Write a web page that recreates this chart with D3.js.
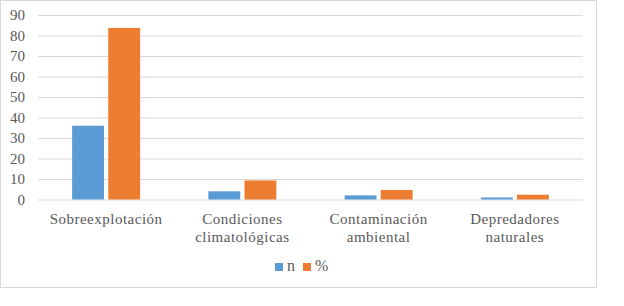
<!DOCTYPE html>
<html>
<head>
<meta charset="utf-8">
<script src="https://cdn.jsdelivr.net/npm/d3@7"></script>
</head>
<body style="margin:0">
<script>
/* bar chart: causes, n and % */

const categories = [["Sobreexplotación"], ["Condiciones", "climatológicas"], ["Contaminación", "ambiental"], ["Depredadores", "naturales"]];
const nValues = [36, 4, 2, 1];
const pctValues = [83.7, 9.3, 4.65, 2.33];
const yTicks = [0, 10, 20, 30, 40, 50, 60, 70, 80, 90];
const seriesNames = ["n", "%"];
const colors = ["#5B9BD5", "#ED7D31"];

const serif = "'Times New Roman', 'Liberation Serif', monospace";

const width = 624,
      height = 306,
      margin = ({ top: 15, right: 41, bottom: 106, left: 38 });

let svg = d3.select("body")
    .append("svg")
    .attr("width", width)
    .attr("height", height);

// outer frame
svg.append("rect")
    .attr("x", 0.5).attr("y", 0.5)
    .attr("width", 596).attr("height", 287)
    .attr("fill", "none")
    .attr("stroke", "#D9D9D9");

let x = d3.scaleBand()
    .domain(categories.map((d, i) => i))
    .range([margin.left, width - margin.right]);

let x1 = d3.scaleBand()
    .domain(seriesNames)
    .range([x.bandwidth() / 2 - 34, x.bandwidth() / 2 + 34])
    .paddingInner(0.118);

let y = d3.scaleLinear()
    .domain([0, 90])
    .range([height - margin.bottom - 0.5, margin.top]);

// gridlines
const yAxis = g => g
    .attr("transform", `translate(${margin.left}, 0)`)
    .call(d3.axisLeft(y).tickValues(yTicks).tickSize(-(width - margin.left - margin.right)).tickFormat(""))
    .call(g => g.select(".domain").remove())
    .call(g => g.selectAll(".tick line").attr("stroke", "#D9D9D9"));

svg.append("g").call(yAxis);

// tick labels
svg.selectAll(".ylab")
    .data(yTicks)
    .join("text")
    .attr("class", "ylab")
    .attr("x", 25)
    .attr("y", d => y(d) + 5)
    .attr("text-anchor", "end")
    .attr("fill", "#595959")
    .attr("font-size", 15)
    .style("font-family", serif)
    .text(d => d);

let group = svg.selectAll(".grp")
    .data(categories.map((c, i) => i))
    .join("g")
    .attr("class", "grp")
    .attr("transform", i => `translate(${x(i)}, 0)`);

group.selectAll("rect")
    .data(i => [nValues[i], pctValues[i]].map((v, k) => ({ k, v })))
    .join("rect")
    .attr("x", d => x1(seriesNames[d.k]))
    .attr("width", x1.bandwidth())
    .attr("y", d => y(d.v))
    .attr("height", d => y(0) - y(d.v))
    .attr("fill", d => colors[d.k]);

// category labels
group.selectAll("text")
    .data(i => categories[i])
    .join("text")
    .attr("text-anchor", "middle")
    .attr("fill", "#595959")
    .attr("font-size", 15)
    .attr("letter-spacing", 0.5)
    .style("font-family", serif)
    .attr("x", x.bandwidth() / 2)
    .attr("y", (d, j) => 224 + j * 18)
    .text(d => d);

// legend
let legend = svg.append("g")
    .selectAll("g")
    .data(seriesNames)
    .join("g")
    .attr("transform", (d, i) => `translate(${275 + i * 28}, 263)`);

legend.append("rect")
    .attr("width", 8).attr("height", 8)
    .attr("fill", (d, i) => colors[i]);

legend.append("text")
    .attr("x", 12).attr("y", 8)
    .attr("fill", "#595959")
    .attr("font-size", 16)
    .style("font-family", serif)
    .text(d => d);
</script>
</body>
</html>
